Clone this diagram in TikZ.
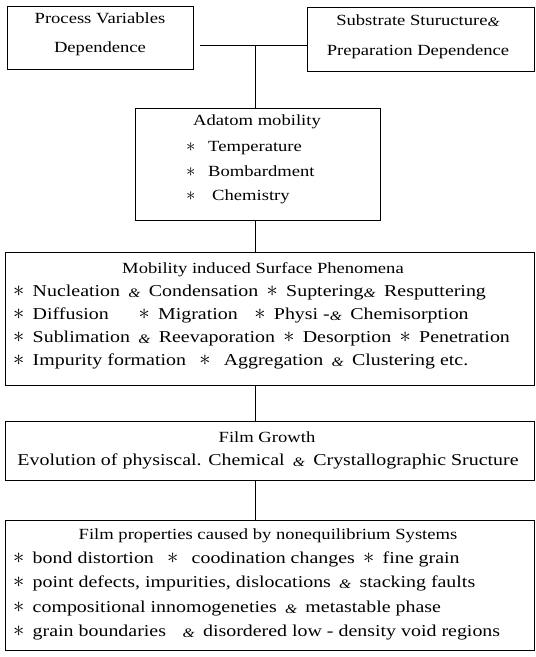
\documentclass[tikz,border=0pt]{standalone}
\usepackage{graphicx}
\usepackage{fontspec}
\setmainfont{Liberation Serif}[FakeStretch=1.2]
\usetikzlibrary{fit}
\newcommand{\amp}{\raisebox{-1pt}{\fontsize{13}{13}\selectfont\itshape\&}}
\newcommand{\st}{\raisebox{-0.3pt}{\scalebox{1.3}{$\ast$}}}
\newcommand{\sa}{\st\hspace{0.5em}}
\newcommand{\g}{\hspace{0.5em}}
\begin{document}
\begin{tikzpicture}[x=1pt,y=-1pt,
  box/.style={draw,line width=0.8pt,inner sep=0pt},
  conn/.style={line width=0.8pt},
  txt/.style={inner sep=0pt,anchor=base west,font=\fontsize{15.5}{18}\selectfont},
  ctxt/.style={inner sep=0pt,anchor=base,font=\fontsize{15.5}{18}\selectfont},
  ltxt/.style={inner sep=0pt,anchor=base west,font=\fontsize{16.6}{18}\selectfont},
  btxt/.style={inner sep=0pt,anchor=base,font=\fontsize{16.6}{18}\selectfont}]
\useasboundingbox (0,0) rectangle (536,657);
% boxes
\node[box,fit={(7,6)(193,69)}] (b1) {};
\node[box,fit={(307,7)(534,71)}] (b2) {};
\node[box,fit={(135,108)(380,220)}] (b3) {};
\node[box,fit={(5,252)(534,385)}] (b4) {};
\node[box,fit={(5,421)(534,480)}] (b5) {};
\node[box,fit={(5,520)(534,650)}] (b6) {};
% connectors
\coordinate (j) at (255,45);
\draw[conn] ([xshift=7pt]b1.east |- j) -- (b2.west |- j);
\draw[conn] (j) -- (j |- b3.north);
\draw[conn] (j |- b3.south) -- (j |- b4.north);
\draw[conn] (j |- b4.south) -- (j |- b5.north);
\draw[conn] (j |- b5.south) -- (j |- b6.north);
% box 1, 2
\node[ctxt] (t11) at (100,23) {Process Variables};
\node[ctxt] (t12) at (100,52) {Dependence};
\node[ctxt] (t21) at (418,25) {Substrate Sturucture\amp};
\node[ctxt] (t22) at (418,55) {Preparation Dependence};
% box 3
\node[ctxt] (t30) at (257,125) {Adatom mobility};
\foreach \y/\x/\s [count=\i] in {151/208/Temperature,176/208/Bombardment,200/212/Chemistry}{
  \node[txt] (s3\i) at (186,\y) {\st};
  \node[txt] (t3\i) at (\x,\y) {\s};
}
% box 4
\node[ctxt] (t40) at (263,273) {Mobility induced Surface Phenomena};
\node[ltxt] (t41) at (13,296) {\sa Nucleation\g\amp\g Condensation\g\sa Suptering\amp\g Resputtering};
\node[ltxt] (t42) at (13,319) {\sa Diffusion\hspace{1.8em}\sa Migration\hspace{1em}\sa Physi -\amp\g Chemisorption};
\node[ltxt] (t43) at (13,342) {\sa Sublimation\g\amp\g Reevaporation\g\sa Desorption\g\sa Penetration};
\node[ltxt] (t44) at (13,365) {\sa Impurity formation\hspace{0.8em}\sa\hspace{0.3em}Aggregation\g\amp\g Clustering etc.};
% box 5
\node[ctxt] (t51) at (267,442) {Film Growth};
\node[btxt] (t52) at (268,465) {Evolution of physiscal. Chemical\g\amp\g Crystallographic Sructure};
% box 6
\node[ctxt] (t60) at (268,539) {Film properties caused by nonequilibrium Systems};
\node[ltxt] (t61) at (13,563) {\sa bond distortion\hspace{0.8em}\sa\hspace{0.3em}coodination changes\g\sa fine grain};
\node[ltxt] (t62) at (13,587) {\sa point defects, impurities, dislocations\g\amp\g stacking faults};
\node[ltxt] (t63) at (13,612) {\sa compositional innomogeneties\g\amp\g metastable phase};
\node[ltxt] (t64) at (13,636) {\sa grain boundaries\hspace{1em}\amp\g disordered low - density void regions};
\end{tikzpicture}
\end{document}
